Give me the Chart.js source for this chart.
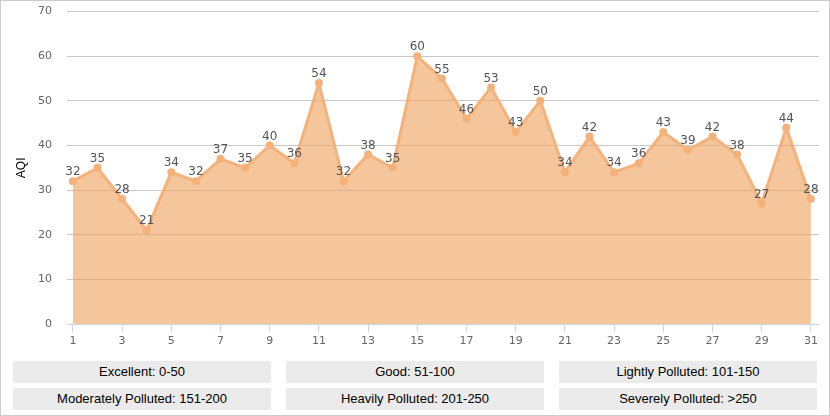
<!DOCTYPE html>
<html>
<head>
<meta charset="utf-8">
<script src="https://cdn.jsdelivr.net/npm/chart.js@4"></script>
<style>
  html, body { margin: 0; padding: 0; background: #fff; }
  #wrap { position: relative; width: 828px; height: 414px; border: 1px solid #cccccc; overflow: hidden; font-family: "Liberation Sans", Arial, sans-serif; }
  #cv { position: absolute; left: -1px; top: -11px; }
  .lg { position: absolute; height: 22px; line-height: 22px; background: #ebebeb; color: #000; font-size: 13px; text-align: center; }
</style>
</head>
<body>
<div id="wrap">
  <canvas id="cv" width="830" height="363"></canvas>
</div>
<script>
const days = [1,2,3,4,5,6,7,8,9,10,11,12,13,14,15,16,17,18,19,20,21,22,23,24,25,26,27,28,29,30,31];
const aqi = [32,35,28,21,34,32,37,35,40,36,54,32,38,35,60,55,46,53,43,50,34,42,34,36,43,39,42,38,27,44,28];
const xTickLabels = [1,3,5,7,9,11,13,15,17,19,21,23,25,27,29,31];
const yTickLabels = [0,10,20,30,40,50,60,70];
const legendLabels = ["Excellent: 0-50","Good: 51-100","Lightly Polluted: 101-150","Moderately Polluted: 151-200","Heavily Polluted: 201-250","Severely Polluted: >250"];

const wrap = document.getElementById('wrap');
const lgLeft = [12, 285, 558];
const lgTop = [360, 387];
legendLabels.forEach((t, i) => {
  const d = document.createElement('div');
  d.className = 'lg';
  d.textContent = t;
  d.style.left = lgLeft[i % 3] + 'px';
  d.style.top = lgTop[Math.floor(i / 3)] + 'px';
  d.style.width = '258px';
  wrap.appendChild(d);
});

const labelPlugin = {
  id: 'valueLabels',
  afterDatasetsDraw(chart) {
    const ctx = chart.ctx;
    const meta = chart.getDatasetMeta(0);
    ctx.save();
    ctx.font = '12px "DejaVu Sans", sans-serif';
    ctx.fillStyle = '#555555';
    ctx.textAlign = 'center';
    ctx.textBaseline = 'bottom';
    meta.data.forEach((pt, i) => {
      ctx.fillText(String(aqi[i]), pt.x, pt.y - 3);
    });
    ctx.restore();
  }
};

new Chart(document.getElementById('cv'), {
  type: 'line',
  data: {
    datasets: [{
      data: days.map((d, i) => ({ x: d, y: aqi[i] })),
      borderColor: '#f4b27a',
      backgroundColor: 'rgba(238,158,88,0.6)',
      borderWidth: 3,
      pointRadius: 4,
      pointBackgroundColor: '#f4b27a',
      pointBorderColor: '#f4b27a',
      pointBorderWidth: 0,
      fill: 'origin',
      tension: 0
    }]
  },
  options: {
    responsive: false,
    animation: false,
    devicePixelRatio: 1,
    layout: { padding: { top: -9, right: 11, left: 0, bottom: 0 } },
    plugins: { legend: { display: false }, tooltip: { enabled: false } },
    scales: {
      x: {
        type: 'linear',
        min: 0.76,
        max: 31.33,
        afterBuildTicks(scale) { scale.ticks = xTickLabels.map(v => ({ value: v })); },
        afterFit(scale) { scale.height = 29; },
        grid: { drawOnChartArea: false, drawTicks: true, tickLength: 8, color: '#ccd6eb' },
        border: { display: true, color: '#ccd6eb', width: 1 },
        ticks: {
          autoSkip: false, maxRotation: 0,
          color: '#666666',
          font: { size: 11, family: '"DejaVu Sans", sans-serif' },
          padding: 3
        }
      },
      y: {
        min: 0, max: 70,
        afterBuildTicks(scale) { scale.ticks = yTickLabels.map(v => ({ value: v })); },
        afterFit(scale) { scale.width = 67; },
        grid: { color: '#c8c8c8', drawTicks: false, lineWidth: 1 },
        border: { display: false },
        ticks: {
          color: '#666666',
          font: { size: 11, family: '"DejaVu Sans", sans-serif' },
          padding: 15
        },
        title: {
          display: true, text: 'AQI', color: '#000000',
          font: { size: 12, family: '"Liberation Sans", Arial, sans-serif' },
          padding: { top: 14, bottom: 0 }
        }
      }
    }
  },
  plugins: [labelPlugin]
});
</script>
</body>
</html>
